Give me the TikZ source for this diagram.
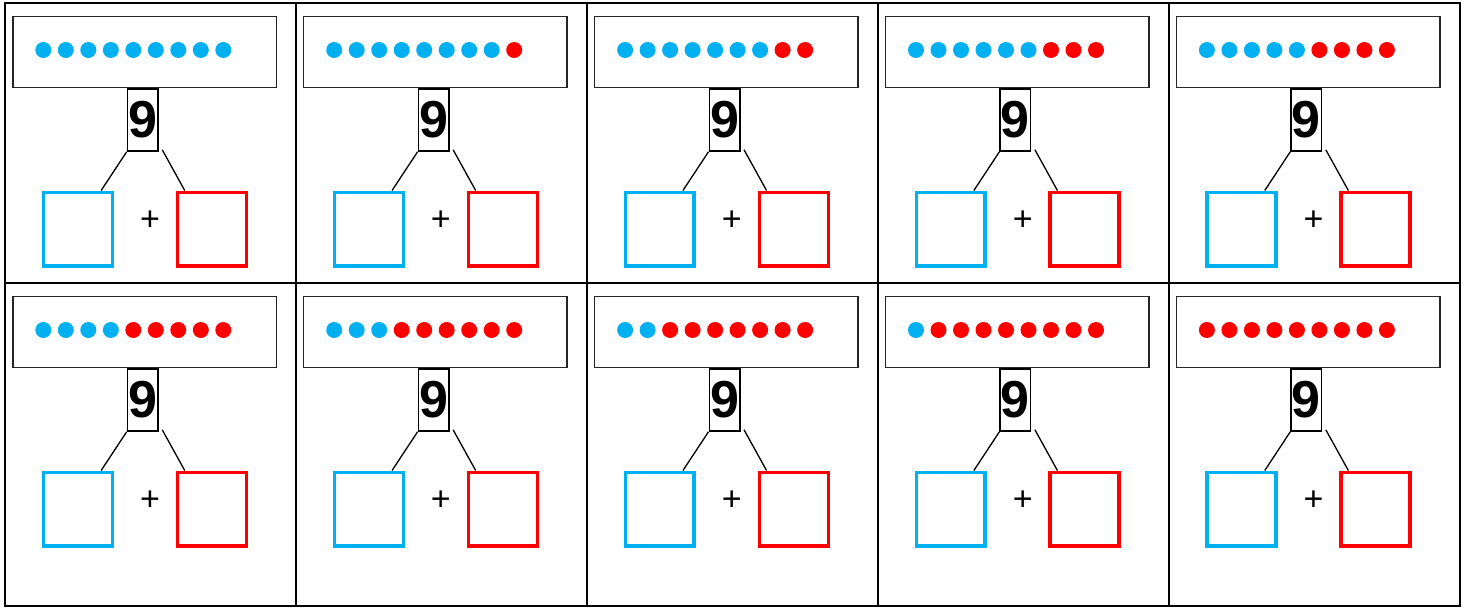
\documentclass[tikz,border=0pt]{standalone}
\usepackage{fontspec}
\setmainfont{Liberation Sans}
\definecolor{cblue}{HTML}{00B0F0}
\definecolor{cred}{HTML}{FF0000}
\tikzset{
  topbox/.style={draw=black!85,line width=1.5pt,minimum width=263.5pt,minimum height=71pt,inner sep=0pt},
  ninebox/.style={draw=black,line width=1.5pt,minimum width=30.5pt,minimum height=62pt,inner sep=0pt,
    font=\fontsize{52}{52}\selectfont\bfseries},
  bluesq/.style={draw=cblue,line width=3.5pt,minimum width=68.8pt,minimum height=73.5pt,inner sep=0pt},
  redsq/.style={draw=cred,line width=3.5pt,minimum width=69pt,minimum height=73.5pt,inner sep=0pt},
  plussign/.style={inner sep=0pt,font=\fontsize{34}{34}\selectfont},
  link/.style={line width=1.3pt,black},
  grid/.style={line width=2pt,black}
}
\begin{document}
\begin{tikzpicture}[x=1pt,y=-1pt]
\useasboundingbox (0,0) rectangle (1468,608);
\fill[white] (0,0) rectangle (1468,608);
\foreach \k in {0,...,9}{
  \pgfmathtruncatemacro\col{mod(\k,5)}
  \pgfmathtruncatemacro\row{int(\k/5)}
  \pgfmathtruncatemacro\nb{9-\k}
  \pgfmathsetmacro\ox{5+290.9*\col}
  \pgfmathsetmacro\oy{3+280*\row}
  \begin{scope}[shift={(\ox,\oy)}]
    \node[topbox] (top\k) at (139.5,49) {};
    \foreach \i in {0,...,8}{
      \ifnum\i<\nb \def\dc{cblue}\else\def\dc{cred}\fi
      \fill[\dc] (38.3+22.5*\i,47) circle[radius=8];
    }
    \node[ninebox] (nine\k) at (137.7,117) {9};
    \node[bluesq] (bl\k) at (73,226) {};
    \node[redsq] (rd\k) at (207,226) {};
    \node[plussign] (plus\k) at (145,218) {+};
    \draw[link] (nine\k.south west) -- ([xshift=-13pt]bl\k.north east);
    \draw[link] ([xshift=3.5pt,yshift=2pt]nine\k.south east) -- ([xshift=9pt]rd\k.north west);
  \end{scope}
}
\draw[grid] (5,3) rectangle (1459.5,605.5);
\draw[grid] (5,282.7) -- (1459.5,282.7);
\foreach \c in {1,...,4}{
  \draw[grid] (5+290.9*\c,3) -- (5+290.9*\c,605.5);
}
\end{tikzpicture}
\end{document}
